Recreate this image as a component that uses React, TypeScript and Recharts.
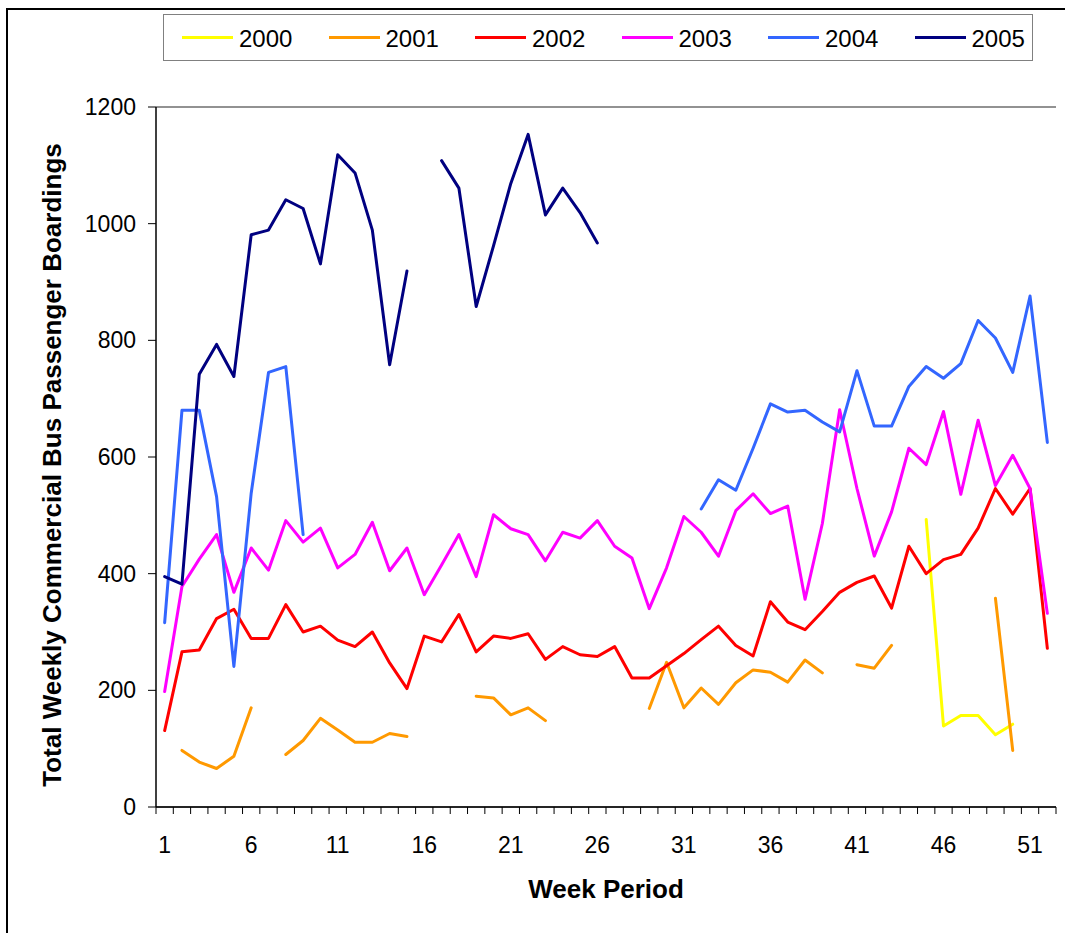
import { LineChart, Line, XAxis, YAxis, CartesianGrid } from "recharts";

const WEEKS = [
  1, 2, 3, 4, 5, 6, 7, 8, 9, 10, 11, 12, 13, 14, 15, 16, 17, 18, 19, 20, 21, 22, 23, 24, 25, 26,
  27, 28, 29, 30, 31, 32, 33, 34, 35, 36, 37, 38, 39, 40, 41, 42, 43, 44, 45, 46, 47, 48, 49, 50, 51, 52,
];
const WEEK_LABELS = [1, 6, 11, 16, 21, 26, 31, 36, 41, 46, 51];
const Y_TICKS = [0, 200, 400, 600, 800, 1000, 1200];

// weekly boardings per year, null = no data that week
const Y2000 = [
  null, null, null, null, null, null, null, null, null, null, null, null, null,
  null, null, null, null, null, null, null, null, null, null, null, null, null,
  null, null, null, null, null, null, null, null, null, null, null, null, null,
  null, null, null, null, null, 493, 139, 157, 157, 124, 142, null, null,
];
const Y2001 = [
  null, 97, 77, 66, 87, 170, null, 90, 114, 152, 132, 111, 111,
  126, 121, null, null, null, 190, 187, 158, 170, 148, null, null, null,
  null, null, 169, 248, 170, 204, 176, 213, 235, 231, 214, 252, 230,
  null, 244, 238, 277, null, null, null, null, null, 358, 97, null, null,
];
const Y2002 = [
  131, 266, 269, 323, 339, 289, 289, 347, 300, 310, 286, 275, 300,
  247, 203, 293, 283, 330, 266, 293, 289, 297, 253, 275, 261, 258,
  275, 221, 221, 242, 263, 287, 310, 277, 259, 352, 317, 304, 335,
  368, 385, 396, 341, 447, 400, 424, 433, 478, 546, 502, 546, 272,
];
const Y2003 = [
  198, 378, 425, 467, 368, 444, 406, 491, 454, 478, 410, 433, 488,
  405, 444, 364, 415, 467, 395, 501, 477, 467, 422, 471, 461, 491,
  447, 427, 340, 410, 498, 471, 430, 508, 537, 503, 516, 356, 486,
  681, 546, 430, 506, 615, 587, 678, 536, 663, 551, 603, 546, 332,
];
const Y2004 = [
  316, 680, 680, 532, 241, 538, 745, 755, 467, null, null, null, null,
  null, null, null, null, null, null, null, null, null, null, null, null, null,
  null, null, null, null, null, 511, 561, 543, 615, 691, 677, 680, 660,
  643, 748, 653, 653, 721, 755, 735, 760, 834, 804, 745, 876, 625,
];
const Y2005 = [
  395, 382, 742, 793, 738, 981, 989, 1041, 1026, 931, 1118, 1087, 989,
  758, 919, null, 1108, 1061, 858, 962, 1069, 1153, 1015, 1061, 1019, 967,
  null, null, null, null, null, null, null, null, null, null, null, null, null,
  null, null, null, null, null, null, null, null, null, null, null, null, null,
];

const SERIES = [
  { key: "y2000", name: "2000", color: "#FFFF00", values: Y2000 },
  { key: "y2001", name: "2001", color: "#FF9900", values: Y2001 },
  { key: "y2002", name: "2002", color: "#FF0000", values: Y2002 },
  { key: "y2003", name: "2003", color: "#FF00FF", values: Y2003 },
  { key: "y2004", name: "2004", color: "#3366FF", values: Y2004 },
  { key: "y2005", name: "2005", color: "#000080", values: Y2005 },
];

const data = WEEKS.map((week, i) => {
  const row: Record<string, number | null> = { week };
  SERIES.forEach((s) => {
    row[s.key] = s.values[i];
  });
  return row;
});

// excel-style category axis: marks between weeks, labels every 5th week
const X_TICKS = [...WEEKS.map((w) => w - 0.5), WEEKS.length + 0.5, ...WEEK_LABELS].sort((a, b) => a - b);

const FONT = '"Liberation Sans", Arial, sans-serif';

function WeekTick({ x, y, payload }: any) {
  const v = payload.value;
  if (v % 1 !== 0) {
    return <line x1={x} x2={x} y1={y} y2={y + 7} stroke="#000" strokeWidth={1} />;
  }
  return (
    <text x={x} y={y + 46} textAnchor="middle" fontSize={23} fontFamily={FONT} fill="#000">
      {v}
    </text>
  );
}

export default function App() {
  return (
    <div
      style={{
        position: "absolute",
        left: 0,
        top: 0,
        width: 1065,
        height: 933,
        overflow: "hidden",
        background: "#fff",
        fontFamily: FONT,
      }}
    >
      <div
        style={{
          position: "absolute",
          left: 6,
          top: 8,
          width: 1200,
          height: 1200,
          border: "2px solid #000",
        }}
      />

      <div
        style={{
          position: "absolute",
          left: 163,
          top: 14,
          width: 870,
          height: 47,
          border: "1.5px solid #808080",
          display: "flex",
          alignItems: "center",
          paddingLeft: 18,
          boxSizing: "border-box",
        }}
      >
        {SERIES.map((s) => (
          <div key={s.key} style={{ width: 146.5, display: "flex", alignItems: "center", flexShrink: 0 }}>
            <span style={{ display: "inline-block", width: 51, height: 3, background: s.color, marginRight: 6 }} />
            <span style={{ fontSize: 24, color: "#000", lineHeight: "24px", marginTop: 2 }}>{s.name}</span>
          </div>
        ))}
      </div>

      <div
        style={{
          position: "absolute",
          left: 52,
          top: 465,
          transform: "translate(-50%, -50%) rotate(-90deg)",
          whiteSpace: "nowrap",
          fontSize: 26,
          fontWeight: "bold",
          color: "#000",
        }}
      >
        Total Weekly Commercial Bus Passenger Boardings
      </div>
      <div
        style={{
          position: "absolute",
          left: 606,
          top: 889,
          transform: "translate(-50%, -50%)",
          whiteSpace: "nowrap",
          fontSize: 26,
          fontWeight: "bold",
          color: "#000",
        }}
      >
        Week Period
      </div>

      <div style={{ position: "absolute", left: 0, top: 0 }}>
        <LineChart
          width={1065}
          height={933}
          data={data}
          margin={{ top: 107, right: 9, bottom: 96, left: 76 }}
        >
          <CartesianGrid horizontal vertical={false} stroke="#6e6e6e" strokeWidth={1.3} />
          <XAxis
            dataKey="week"
            type="number"
            domain={[0.5, WEEKS.length + 0.5]}
            ticks={X_TICKS}
            interval={0}
            height={30}
            tickSize={0}
            tickMargin={0}
            tickLine={false}
            tick={<WeekTick />}
            axisLine={{ stroke: "#000", strokeWidth: 1.5 }}
          />
          <YAxis
            yAxisId="left"
            domain={[0, 1200]}
            ticks={Y_TICKS}
            width={80}
            tickSize={8}
            tickMargin={12}
            tick={{ fontSize: 23, fill: "#000", fontFamily: FONT }}
            tickLine={{ stroke: "#000" }}
            axisLine={{ stroke: "#000", strokeWidth: 1.5 }}
          />
          <YAxis
            yAxisId="right"
            orientation="right"
            domain={[0, 1200]}
            width={0}
            tick={false}
            tickLine={false}
            axisLine={{ stroke: "#6e6e6e", strokeWidth: 2 }}
          />
          {SERIES.map((s) => (
            <Line
              key={s.key}
              yAxisId="left"
              type="linear"
              dataKey={s.key}
              name={s.name}
              stroke={s.color}
              strokeWidth={3}
              strokeLinejoin="round"
              strokeLinecap="round"
              dot={false}
              activeDot={false}
              connectNulls={false}
              isAnimationActive={false}
            />
          ))}
        </LineChart>
      </div>
    </div>
  );
}
